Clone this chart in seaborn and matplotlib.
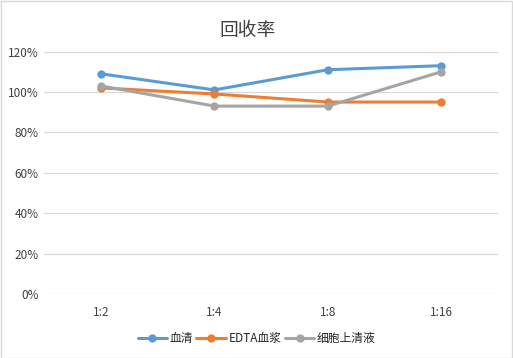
import pandas as pd
import matplotlib
matplotlib.use("Agg")
import matplotlib.pyplot as plt
import seaborn as sns
from matplotlib.ticker import PercentFormatter

# data
dilutions = ["1:2", "1:4", "1:8", "1:16"]
serum = [1.09, 1.01, 1.11, 1.13]
edta_plasma = [1.02, 0.99, 0.95, 0.95]
supernatant = [1.03, 0.93, 0.93, 1.10]
series_names = ["血清", "EDTA血浆", "细胞上清液"]
colors = ["#5B9BD5", "#ED7D31", "#A5A5A5"]

rows = []
for name, vals in zip(series_names, [serum, edta_plasma, supernatant]):
    for d, v in zip(dilutions, vals):
        rows.append({"dilution": d, "value": v, "sample": name})
df = pd.DataFrame(rows)

sns.set_style("white")
plt.rcParams["font.family"] = ["Noto Sans CJK SC", "DejaVu Sans"]

fig = plt.figure(figsize=(5.13, 3.58), dpi=100)
ax = fig.add_axes([0.086, 0.179, 0.885, 0.677])

sns.lineplot(data=df, x="dilution", y="value", hue="sample", palette=colors,
             marker="o", markersize=6, markeredgewidth=0, linewidth=2.2,
             sort=False, ax=ax)

ax.set_xlim(-0.5, 3.5)
ax.set_ylim(0, 1.2)
ax.set_yticks([0, 0.2, 0.4, 0.6, 0.8, 1.0, 1.2])
ax.yaxis.set_major_formatter(PercentFormatter(1.0, decimals=0))
ax.grid(axis="y", color="#D9D9D9", linewidth=0.9)
ax.set_axisbelow(True)
for s in ax.spines.values():
    s.set_visible(False)
ax.tick_params(axis="both", length=0, labelsize=8.5, colors="#404040")
ax.tick_params(axis="x", pad=9)
ax.tick_params(axis="y", pad=4)
ax.set_xlabel("")
ax.set_ylabel("")

fig.text(0.483, 0.915, "回收率", ha="center", va="center", fontsize=13.5, color="#404040")

ax.get_legend().remove()
handles, labels = ax.get_legend_handles_labels()
fig.legend(handles, labels, loc="center", bbox_to_anchor=(0.5, 0.055), ncol=3,
           frameon=False, fontsize=8.5, handlelength=2.5, handletextpad=0.2,
           columnspacing=0.3)

# thin border round the figure like the chart area frame
fig.patches.append(plt.Rectangle((0.001, 0.001), 0.997, 0.997, transform=fig.transFigure,
                                 fill=False, edgecolor="#D9D9D9", linewidth=1))

fig.savefig("out.png", dpi=100)
